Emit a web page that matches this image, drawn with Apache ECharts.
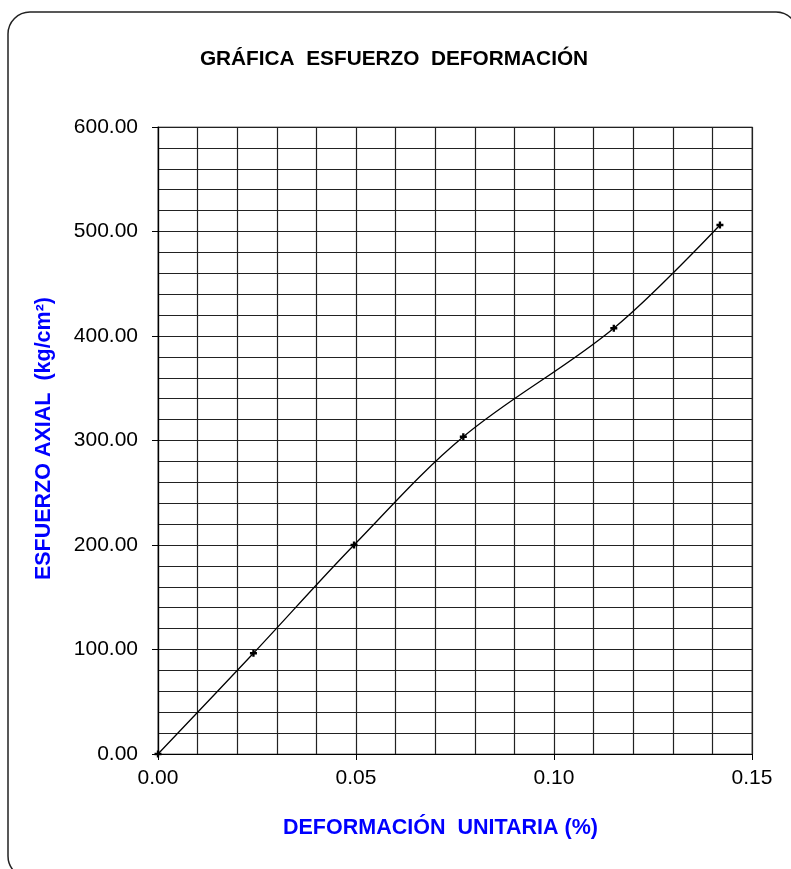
<!DOCTYPE html>
<html>
<head>
<meta charset="utf-8">
<script src="https://cdn.jsdelivr.net/npm/echarts@6/dist/echarts.min.js"></script>
<style>
html,body{margin:0;padding:0;background:#fff;}
#chart{width:791px;height:869px;}
</style>
</head>
<body>
<div id="chart"></div>
<script>
const strain = [0, 0.0241, 0.0495, 0.0771, 0.1151, 0.1419];
const stress = [0, 96.4, 200.0, 303.6, 407.4, 506.2];
const chartTitle = 'GRÁFICA  ESFUERZO  DEFORMACIÓN';
const xTitle = 'DEFORMACIÓN  UNITARIA (%)';
const yTitle = 'ESFUERZO AXIAL  (kg/cm²)';

const points = strain.map((x, i) => [x, stress[i]]);
const font = '"Liberation Sans", Arial, sans-serif';
const gridColor = '#222';

const chart = echarts.init(document.getElementById('chart'), null, {renderer: 'canvas'});
chart.setOption({
  backgroundColor: '#fff',
  animation: false,
  title: {
    text: chartTitle,
    left: 389, top: 44, textAlign: 'center',
    textStyle: {fontFamily: font, fontWeight: 'bold', fontSize: 20.8, color: '#000'}
  },
  graphic: [
    {type: 'rect', shape: {x: 8, y: 12, width: 790, height: 866, r: 22},
     style: {fill: 'none', stroke: '#222', lineWidth: 1.5}, z: -1},
    {type: 'text', left: 283, top: 817,
     style: {text: xTitle, fill: '#0000FF', font: 'bold 21.5px ' + font}},
    {type: 'text', left: 33, top: 297, rotation: Math.PI / 2,
     style: {text: yTitle, fill: '#0000FF', font: 'bold 21.5px ' + font}}
  ],
  grid: {left: 158, top: 127, right: 39, bottom: 115, show: true, borderColor: '#777', borderWidth: 1.2},
  xAxis: {
    type: 'value', min: 0, max: 0.15, interval: 0.05,
    axisLine: {show: true, lineStyle: {color: '#000', width: 1.2}},
    axisTick: {show: true, length: 6, lineStyle: {color: '#000'}},
    minorTick: {show: false, splitNumber: 5},
    splitLine: {show: true, lineStyle: {color: gridColor, width: 1.2}},
    minorSplitLine: {show: true, lineStyle: {color: gridColor, width: 1.2}},
    axisLabel: {fontFamily: font, fontSize: 21, color: '#000', margin: 14,
      formatter: v => v.toFixed(2)}
  },
  yAxis: {
    type: 'value', min: 0, max: 600, interval: 100,
    axisLine: {show: true, lineStyle: {color: '#000', width: 1.2}},
    axisTick: {show: true, length: 6, lineStyle: {color: '#000'}},
    minorTick: {show: false, splitNumber: 5},
    splitLine: {show: true, lineStyle: {color: gridColor, width: 1.2}},
    minorSplitLine: {show: true, lineStyle: {color: gridColor, width: 1.2}},
    axisLabel: {fontFamily: font, fontSize: 21, color: '#000', margin: 20,
      formatter: v => v.toFixed(2)}
  },
  series: [{
    type: 'line',
    data: points,
    smooth: 0.35,
    lineStyle: {color: '#000', width: 1.3},
    symbol: 'path://M-1,-3L1,-3L1,-1L3,-1L3,1L1,1L1,3L-1,3L-1,1L-3,1L-3,-1L-1,-1Z',
    symbolSize: 7,
    itemStyle: {color: '#000'},
    showSymbol: true,
    clip: false
  }]
});
</script>
</body>
</html>
